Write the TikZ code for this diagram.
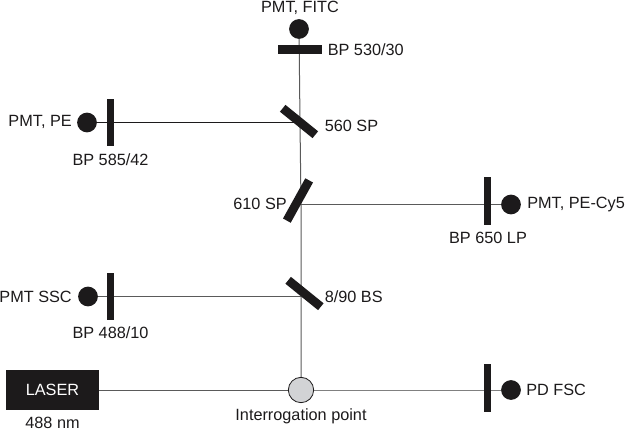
\documentclass[tikz,border=0pt]{standalone}
\usepackage{fontspec}
\setmainfont{Liberation Sans}
\usetikzlibrary{backgrounds}
\definecolor{inkdark}{HTML}{1C1A1B}
\definecolor{beamgray}{HTML}{5A5A5A}
\definecolor{pointgray}{HTML}{D2D3D5}
\tikzset{
    label text/.style={text=inkdark, inner sep=0pt, font=\fontsize{12.2}{14}\selectfont},
    detector/.style={circle, fill=inkdark, inner sep=0pt, minimum size=14.8pt},
    filter bar/.style={rectangle, fill=inkdark, inner sep=0pt, minimum width=35.6pt, minimum height=5.25pt},
    mirror bar/.style={rectangle, fill=inkdark, inner sep=0pt, minimum width=31.5pt, minimum height=6.6pt},
    beam/.style={draw=beamgray, line width=0.75pt}
}

\begin{document}
\begin{tikzpicture}[x=0.75pt, y=-0.75pt]
    \useasboundingbox (0, 0) rectangle (628, 430);
    % Detector arm at the top
    \node[detector] (detFITC) at (299, 29) {};
    \node[filter bar, minimum width=33pt, minimum height=6.75pt] (barFITC) at (299.7, 49.7) {};
    \node[label text] (txtFITC) at (300, 7.5) {PMT, FITC};
    \node[label text, anchor=west] (txtBarFITC) at (327.5, 50) {BP 530/30};
    % PE arm
    \node[detector] (detPE) at (87, 122.5) {};
    \node[filter bar, rotate=90] (barPE) at (110.5, 122.5) {};
    \node[label text, anchor=east] (txtPE) at (72, 122) {PMT, PE};
    \node[label text] (txtBarPE) at (110.5, 159.5) {BP 585/42};
    % PE-Cy5 arm
    \node[detector] (detCy) at (511, 204.5) {};
    \node[filter bar, rotate=90] (barCy) at (487.5, 201) {};
    \node[label text, anchor=west] (txtCy) at (527, 204) {PMT, PE-Cy5};
    \node[label text] (txtBarCy) at (488, 238) {BP 650 LP};
    % SSC arm
    \node[detector] (detSSC) at (88, 296.5) {};
    \node[filter bar, rotate=90] (barSSC) at (110.5, 296.5) {};
    \node[label text, anchor=east] (txtSSC) at (72, 296.5) {PMT SSC};
    \node[label text] (txtBarSSC) at (110.5, 333) {BP 488/10};
    % Splitters on the vertical beam
    \node[mirror bar, rotate=-39] (split560) at (299, 121.5) {};
    \node[mirror bar, rotate=61, minimum width=34.5pt] (split610) at (298, 200.5) {};
    \node[mirror bar, rotate=-39] (splitBS) at (304.5, 293.5) {};
    \node[label text, anchor=west] (txt560) at (324.5, 125.5) {560 SP};
    \node[label text, anchor=east] (txt610) at (287, 204) {610 SP};
    \node[label text, anchor=west] (txtBS) at (324.5, 296.5) {8/90 BS};
    % Laser and interrogation point
    \node[rectangle, fill=inkdark, minimum width=69.75pt, minimum height=30.4pt, inner sep=0pt,
        text=white, font=\fontsize{12.2}{14}\selectfont] (laser) at (52.5, 390) {LASER};
    \node[label text] (txtLaser) at (52.5, 422.5) {488 nm};
    \node[circle, draw=inkdark, fill=pointgray, line width=0.6pt, inner sep=0pt, minimum size=19pt] (point) at (301, 390) {};
    \node[label text] (txtPoint) at (301, 416) {Interrogation point};
    % PD on the forward axis
    \node[detector] (detFSC) at (511, 390) {};
    \node[filter bar, rotate=90] (barFSC) at (487.5, 388) {};
    \node[label text, anchor=west] (txtFSC) at (526, 390) {PD FSC};
    % Junctions where the side arms leave the beam
    \coordinate (jointBS) at (301, 296.5);
    \coordinate (joint610) at (301, 204.5);
    \coordinate (joint560) at (300, 122.5);
    % Beams go behind the bars
    \begin{pgfonlayer}{background}
        \draw[beam] (point) -- (jointBS) -- (joint610) -- (joint560) -- (detFITC);
        \draw[beam, inkdark] (detPE) -- (joint560);
        \draw[beam] (joint610) -- (detCy);
        \draw[beam] (detSSC) -- (jointBS);
        \draw[beam] (laser) -- (point);
        \draw[beam, gray] (point) -- (detFSC);
    \end{pgfonlayer}
\end{tikzpicture}
\end{document}
